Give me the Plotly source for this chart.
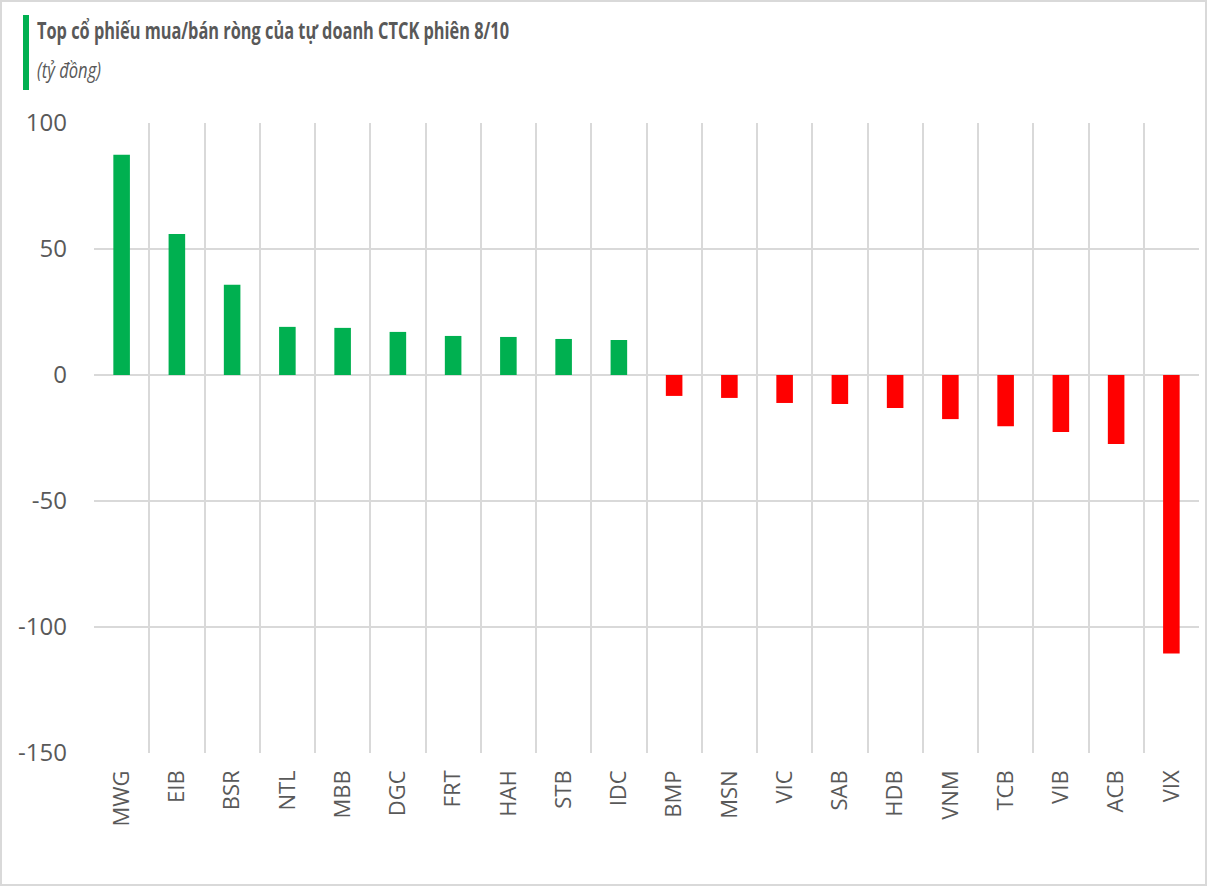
import plotly.graph_objects as go

categories = ["MWG", "EIB", "BSR", "NTL", "MBB", "DGC", "FRT", "HAH", "STB", "IDC",
              "BMP", "MSN", "VIC", "SAB", "HDB", "VNM", "TCB", "VIB", "ACB", "VIX"]
values = [87.4, 56.0, 35.8, 19.1, 18.7, 17.1, 15.5, 15.1, 14.3, 13.9,
          -8.3, -9.1, -11.1, -11.5, -13.1, -17.5, -20.3, -22.6, -27.4, -110.5]
y_ticks = [100, 50, 0, -50, -100, -150]
title_text = "Top cổ phiếu mua/bán ròng của tự doanh CTCK phiên 8/10"
subtitle_text = "(tỷ đồng)"

GREEN = "#00B050"
RED = "#FF0000"
GRID = "#D9D9D9"
TEXT = "#595959"

W, H = 1209, 887
L, R, T, B = 94, 10, 123, 134
pw, ph = W - L - R, H - T - B

def px_x(x):
    return (x - L) / pw

def px_y(y):
    return 1 - (y - T) / ph

colors = [GREEN if v >= 0 else RED for v in values]

fig = go.Figure(go.Bar(x=categories, y=values, marker_color=colors,
                       marker_line_width=0, width=0.3))

fig.update_layout(
    width=W, height=H,
    margin=dict(l=L, r=R, t=T, b=B, autoexpand=False),
    paper_bgcolor="white", plot_bgcolor="white",
    showlegend=False,
    font=dict(family="Open Sans", color=TEXT),
    xaxis=dict(
        tickson="boundaries", showgrid=True, gridcolor=GRID, gridwidth=1.5,
        tickangle=-90, tickfont=dict(size=22, color=TEXT),
        ticks="", showline=False, zeroline=False,
        ticklabelstandoff=12,
    ),
    yaxis=dict(
        range=[-150, 100], tickvals=y_ticks, ticktext=[str(v) for v in y_ticks],
        showgrid=True, gridcolor=GRID, gridwidth=1.5,
        zeroline=True, zerolinecolor=GRID, zerolinewidth=1.5,
        tickfont=dict(size=24, color=TEXT), ticks="", showline=False,
        ticklabelstandoff=26,
    ),
    shapes=[
        dict(type="rect", xref="paper", yref="paper",
             x0=px_x(1), x1=px_x(1206), y0=px_y(885), y1=px_y(1),
             line=dict(color=GRID, width=2), fillcolor="rgba(0,0,0,0)", layer="below"),
        dict(type="rect", xref="paper", yref="paper",
             x0=px_x(23), x1=px_x(29), y0=px_y(90), y1=px_y(15),
             line=dict(width=0), fillcolor=GREEN),
    ],
    annotations=[
        dict(text="<b>" + title_text + "</b>", xref="paper", yref="paper",
             x=px_x(35), y=px_y(29), xanchor="left", yanchor="middle", align="left",
             showarrow=False,
             font=dict(size=24, color=TEXT, family="Open Sans")),
        dict(text="<i>" + subtitle_text + "</i>", xref="paper", yref="paper",
             x=px_x(35), y=px_y(69), xanchor="left", yanchor="middle", align="left",
             showarrow=False, font=dict(size=22, color=TEXT, family="Open Sans")),
    ],
)

post = """
document.body.style.margin='0';
document.body.style.overflow='hidden';
var gd = document.getElementById('{plot_id}');
function fixText(){
  var t = gd.querySelectorAll('.annotation-text');
  var lens = ['472', '64'];
  for (var i = 0; i < t.length && i < lens.length; i++) {
    t[i].setAttribute('textLength', lens[i]);
    t[i].setAttribute('lengthAdjust', 'spacingAndGlyphs');
  }
}
fixText();
if (gd.on) gd.on('plotly_afterplot', fixText);
setTimeout(fixText, 50);
"""

fig.write_html("out.html", config={"displayModeBar": False}, post_script=post)
